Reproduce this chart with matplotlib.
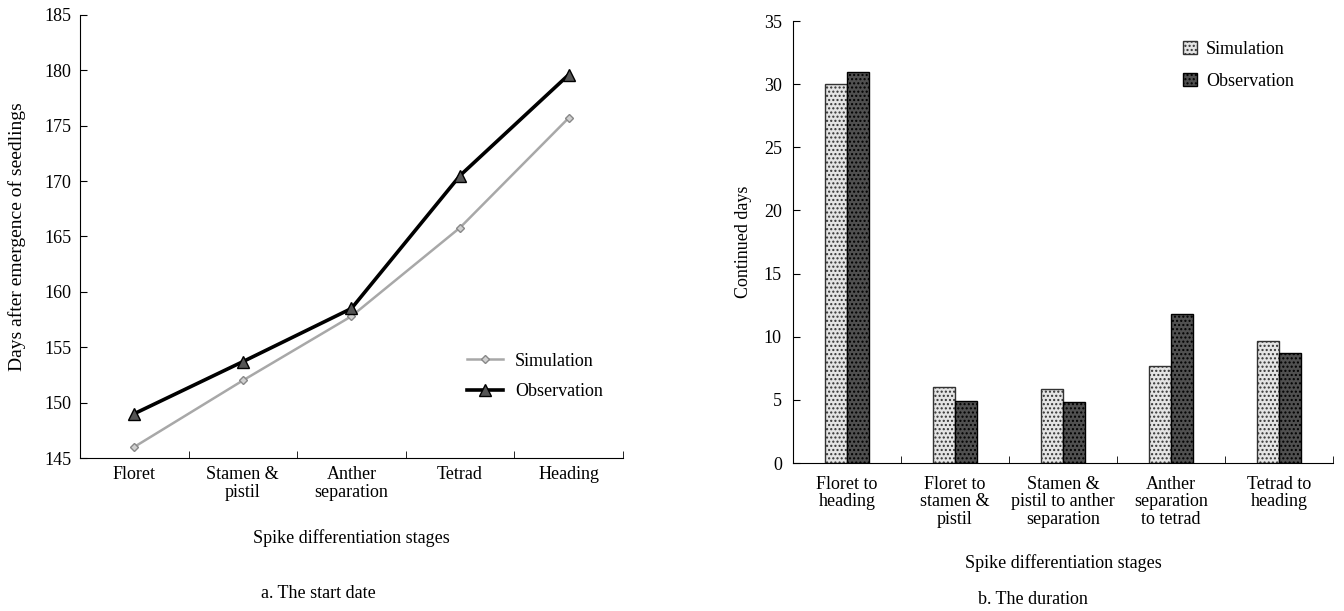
import matplotlib.pyplot as plt
import numpy as np

plt.rcParams['font.family'] = ['Liberation Serif', 'DejaVu Serif']
plt.rcParams['font.size'] = 13

# data for panel a (start date)
stages = ['Floret', 'Stamen &\npistil', 'Anther\nseparation', 'Tetrad', 'Heading']
simStart = [146.0, 152.0, 157.8, 165.8, 175.7]
obsStart = [149.0, 153.7, 158.5, 170.5, 179.6]

# data for panel b (duration)
periods = ['Floret to\nheading', 'Floret to\nstamen &\npistil', 'Stamen &\npistil to anther\nseparation',
           'Anther\nseparation\nto tetrad', 'Tetrad to\nheading']
simDur = [30.0, 6.0, 5.9, 7.7, 9.7]
obsDur = [31.0, 4.9, 4.8, 11.8, 8.7]

fig = plt.figure(figsize=(13.44, 6.11), dpi=100)

# ---- panel a ----
axA = fig.add_axes([0.0595, 0.2504, 0.404, 0.7251])
x = np.arange(len(stages))
axA.plot(x, simStart, color='#a8a8a8', lw=1.8, marker='D', markersize=4,
         markerfacecolor='#d0d0d0', markeredgecolor='#888888', label='Simulation')
axA.plot(x, obsStart, color='black', lw=2.6, marker='^', markersize=9,
         markerfacecolor='#555555', markeredgecolor='black', label='Observation')
axA.set_xlim(-0.5, 4.5)
axA.set_ylim(145, 185)
axA.set_yticks(np.arange(145, 186, 5))
axA.set_xticks(x)
axA.set_xticklabels(stages, linespacing=1.05)
axA.set_xticks(np.arange(0.5, 4.6, 1), minor=True)
axA.tick_params(axis='x', which='major', length=0, pad=6)
axA.tick_params(axis='x', which='minor', direction='in', length=5)
axA.tick_params(axis='y', direction='in', length=5, pad=6)
axA.spines['top'].set_visible(False)
axA.spines['right'].set_visible(False)
axA.set_ylabel('Days after emergence of seedlings', fontsize=14)
axA.yaxis.set_label_coords(-0.10, 0.5)
axA.set_xlabel('Spike differentiation stages')
axA.xaxis.set_label_coords(0.5, -0.16)
axA.legend(loc='center left', bbox_to_anchor=(0.683, 0.184), frameon=False,
           handlelength=2.0, handletextpad=0.65, labelspacing=0.75)
fig.text(318 / 1344, 1 - 593 / 611, 'a. The start date', ha='center', va='center')

# ---- panel b ----
axB = fig.add_axes([0.590, 0.2422, 0.4018, 0.7234])
xb = np.arange(len(periods))
w = 0.2
axB.bar(xb - w / 2, simDur, w, color='#e4e4e4', edgecolor='#333333', lw=1.0,
        hatch='....', label='Simulation')
axB.bar(xb + w / 2, obsDur, w, color='#505050', edgecolor='black', lw=1.0,
        hatch='....', label='Observation')
axB.set_xlim(-0.5, 4.5)
axB.set_ylim(0, 35)
axB.set_yticks(np.arange(0, 36, 5))
axB.set_xticks(xb)
axB.set_xticklabels(periods, linespacing=1.05)
axB.set_xticks(np.arange(0.5, 4.6, 1), minor=True)
axB.tick_params(axis='x', which='major', length=0, pad=9)
axB.tick_params(axis='x', which='minor', direction='in', length=5)
axB.tick_params(axis='y', direction='in', length=5, pad=8)
axB.spines['top'].set_visible(False)
axB.spines['right'].set_visible(False)
axB.set_ylabel('Continued days')
axB.yaxis.set_label_coords(-0.076, 0.5)
axB.set_xlabel('Spike differentiation stages')
axB.xaxis.set_label_coords(0.5, -0.205)
axB.legend(loc='center left', bbox_to_anchor=(0.693, 0.90), frameon=False,
           handlelength=0.75, handleheight=0.75, handletextpad=0.5, labelspacing=0.85)
fig.text(1033 / 1344, 1 - 600 / 611, 'b. The duration', ha='center', va='center')

fig.savefig('out.png', dpi=100)
